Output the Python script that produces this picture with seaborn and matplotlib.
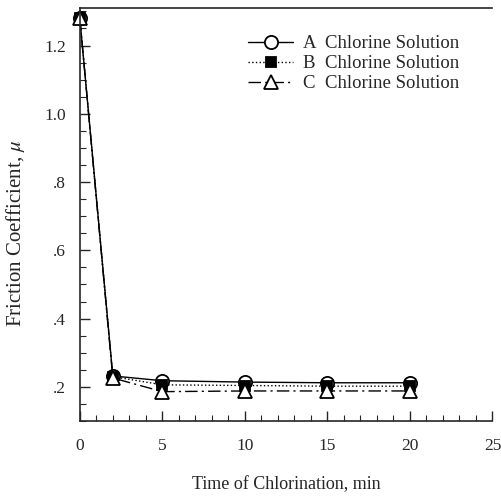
import numpy as np
import pandas as pd
import matplotlib
matplotlib.use("Agg")
import matplotlib.pyplot as plt
import seaborn as sns
from matplotlib.ticker import MultipleLocator, FuncFormatter

# data
time_min = [0, 2, 5, 10, 15, 20]
mu_a = [1.28, 0.232, 0.218, 0.214, 0.212, 0.212]
mu_b = [1.28, 0.230, 0.206, 0.204, 0.202, 0.202]
mu_c = [1.28, 0.226, 0.186, 0.188, 0.188, 0.188]
labels = ["A  Chlorine Solution", "B  Chlorine Solution", "C  Chlorine Solution"]

sns.set_style("ticks")
plt.rcParams['font.family'] = ['Liberation Serif', 'DejaVu Serif']
plt.rcParams['mathtext.fontset'] = 'stix'

fig = plt.figure(figsize=(5.02, 5.0), dpi=100)
ax = fig.add_axes([0.159, 0.158, 0.822, 0.826])

styles = [
    dict(marker="o", linestyle="-", mfc="white", ms=9.5),
    dict(marker="s", linestyle=":", mfc="black", ms=7),
    dict(marker="^", linestyle=(0, (9, 3, 1.5, 3)), mfc="white", ms=9.5),
]
for vals, lab, st in zip([mu_a, mu_b, mu_c], labels, styles):
    sns.lineplot(x=time_min, y=vals, ax=ax, color="black", lw=1.0,
                 marker=st["marker"], linestyle=st["linestyle"],
                 markerfacecolor=st["mfc"], markeredgecolor="black",
                 markeredgewidth=1.3, markersize=st["ms"], label=lab,
                 clip_on=False)

ax.set_xlim(0, 25)
ax.set_ylim(0.1, 1.31)
ax.xaxis.set_major_locator(MultipleLocator(5))
ax.xaxis.set_minor_locator(MultipleLocator(1))
ax.yaxis.set_major_locator(MultipleLocator(0.2))
ax.yaxis.set_minor_locator(MultipleLocator(0.05))

def yfmt(v, pos):
    s = f"{v:.1f}"
    return s[1:] if s.startswith("0") else s
ax.yaxis.set_major_formatter(FuncFormatter(yfmt))

ax.tick_params(which="both", direction="in", labelsize=12.5, pad=10)
ax.tick_params(which="major", length=7, width=1)
ax.tick_params(which="minor", length=4, width=0.8)
ax.tick_params(axis="x", pad=12)
ax.tick_params(top=False, right=False, which="both")

ax.spines["right"].set_visible(False)
ax.spines["top"].set_visible(True)
for s in ["left", "bottom", "top"]:
    ax.spines[s].set_linewidth(1.2)

ax.set_xlabel("Time of Chlorination, min", fontsize=13, labelpad=16)
ax.set_ylabel("Friction Coefficient, $\\mu$", fontsize=15)
ax.yaxis.set_label_coords(-0.127, 0.455)

ax.legend(loc="upper right", bbox_to_anchor=(0.96, 0.975), frameon=False,
          fontsize=13.5, handlelength=2.4, handletextpad=0.5, labelspacing=0.15)

plt.savefig("out.png", dpi=100)
